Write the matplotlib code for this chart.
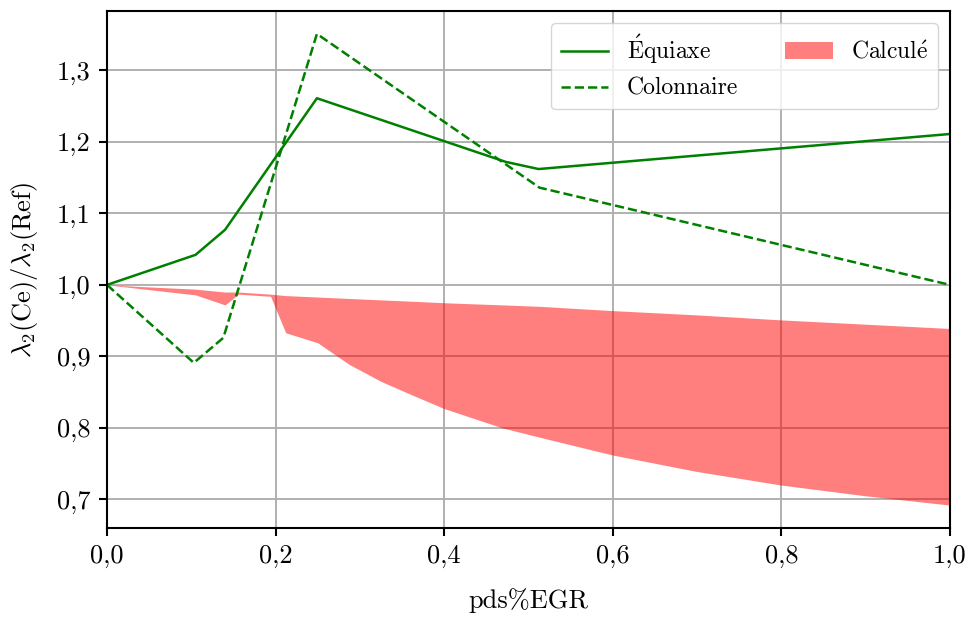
import matplotlib
matplotlib.use("Agg")
import matplotlib.pyplot as plt

plt.rcParams['font.family'] = ['cmr10', 'DejaVu Serif']
plt.rcParams['mathtext.fontset'] = 'cm'
plt.rcParams['axes.formatter.use_mathtext'] = True
plt.rcParams['font.size'] = 19

# Équiaxe (solid)
eq_x = [0.0, 0.105, 0.140, 0.249, 0.473, 0.512, 1.0]
eq_y = [1.0, 1.042, 1.077, 1.261, 1.172, 1.162, 1.211]

# Colonnaire (dashed)
col_x = [0.0, 0.103, 0.138, 0.249, 0.513, 1.0]
col_y = [1.0, 0.891, 0.926, 1.351, 1.136, 1.0]

# Calculé (band)
calc_x = [0.0, 0.105, 0.140, 0.156, 0.194, 0.212, 0.250, 0.287, 0.325, 0.364,
          0.400, 0.469, 0.513, 0.600, 0.700, 0.800, 0.900, 1.0]
calc_hi = [1.0, 0.994, 0.990, 0.990, 0.987, 0.985, 0.983, 0.981, 0.979, 0.977,
           0.975, 0.972, 0.970, 0.964, 0.958, 0.951, 0.945, 0.939]
calc_lo = [1.0, 0.986, 0.972, 0.987, 0.984, 0.933, 0.919, 0.889, 0.865, 0.845,
           0.827, 0.800, 0.787, 0.762, 0.739, 0.720, 0.705, 0.692]

xticks = [0.0, 0.2, 0.4, 0.6, 0.8, 1.0]
xticklabels = ['0,0', '0,2', '0,4', '0,6', '0,8', '1,0']
yticks = [0.7, 0.8, 0.9, 1.0, 1.1, 1.2, 1.3]
yticklabels = ['0,7', '0,8', '0,9', '1,0', '1,1', '1,2', '1,3']

fig = plt.figure(figsize=(9.71, 6.23), dpi=100)
ax = fig.add_axes([107/971, 1-528/623, (950-107)/971, (528-11)/623])

ax.fill_between(calc_x, calc_lo, calc_hi, color='red', alpha=0.5, linewidth=0,
                label=r'$\mathrm{Calcul\acute{e}}$')
l1, = ax.plot(eq_x, eq_y, color='green', lw=1.8, label=r'$\mathrm{\acute{E}quiaxe}$')
l2, = ax.plot(col_x, col_y, color='green', lw=1.8, ls='--', label='Colonnaire')

ax.set_xlim(0, 1)
ax.set_ylim(0.66, 1.383)
ax.set_xticks(xticks)
ax.set_xticklabels(xticklabels)
ax.set_yticks(yticks)
ax.set_yticklabels(yticklabels)
ax.grid(True, color='#b0b0b0', lw=1.4)
ax.set_axisbelow(True)
ax.tick_params(length=6, width=1.5, pad=6)
for s in ax.spines.values():
    s.set_linewidth(1.5)

ax.set_xlabel(r'pds%EGR', labelpad=14)
ax.set_ylabel(r'$\lambda_2(\mathrm{Ce})/\lambda_2(\mathrm{Ref})$', labelpad=12)

h, lab = ax.get_legend_handles_labels()
# order: Équiaxe, Colonnaire, Calculé
order = [1, 2, 0]
ax.legend([h[i] for i in order], [lab[i] for i in order], ncol=2,
          loc='upper right', fontsize=17, framealpha=0.8, edgecolor='#cccccc',
          handlelength=2.0, columnspacing=2.0, borderaxespad=0.5)

fig.savefig('out.png', dpi=100)
